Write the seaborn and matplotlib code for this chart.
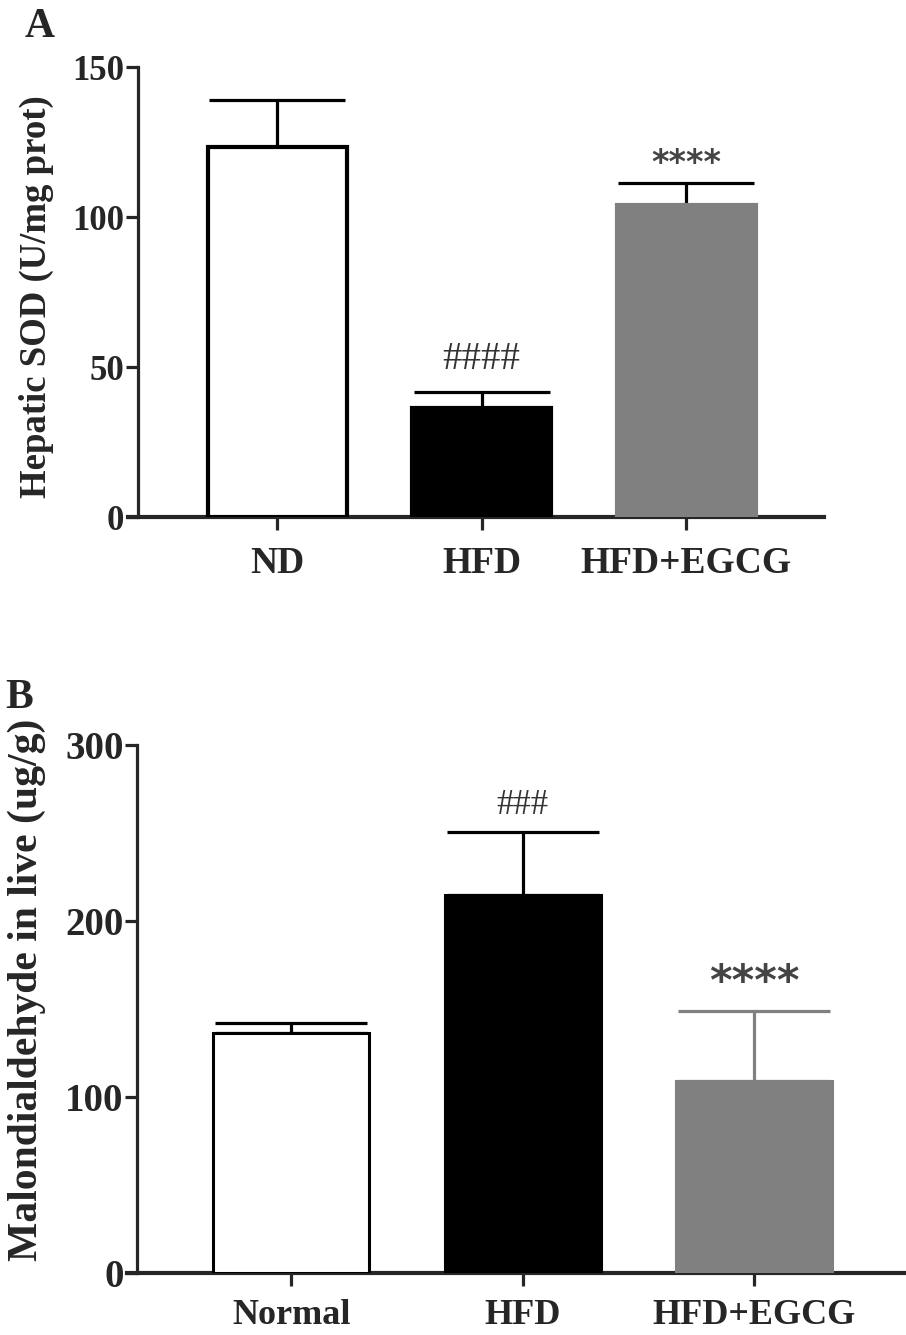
import matplotlib
matplotlib.use("Agg")
import matplotlib.pyplot as plt
import seaborn as sns

# --- data ---
groups_a = ["ND", "HFD", "HFD+EGCG"]
sod_mean = [123.5, 36.3, 104.0]
sod_err = [15.5, 5.4, 7.5]
marks_a = ["", "####", "****"]

groups_b = ["Normal", "HFD", "HFD+EGCG"]
mda_mean = [136.5, 214.8, 109.0]
mda_err = [5.5, 35.5, 40.0]
marks_b = ["", "###", "****"]

fills = ["white", "black", "#808080"]
edges = ["black", "black", "#808080"]

sns.set_style("ticks")
plt.rcParams["font.family"] = ["Liberation Serif", "DejaVu Serif"]

fig = plt.figure(figsize=(9.06, 13.35), dpi=100)


def panel(rect, groups, means, errs, marks, ylim, yticks, ylabel, xlim, spine_x,
          width, capsize, edge_lw, err_colors, tick_fs, ylab_fs, xlab_fs, xpad,
          label_x, label_y, hash_fs, star_fs, mark_offsets):
    ax = fig.add_axes(rect)
    sns.barplot(x=groups, y=means, hue=groups, palette=fills, legend=False,
                width=width, ax=ax, errorbar=None, zorder=3)
    for p, ec in zip(ax.patches, edges):
        p.set_edgecolor(ec)
        p.set_linewidth(edge_lw)
    for i, (m, e) in enumerate(zip(means, errs)):
        ax.errorbar(i, m, yerr=[[0], [e]], fmt="none", ecolor=err_colors[i],
                    elinewidth=2.3, capsize=capsize, capthick=2.3, zorder=2)
    ax.set_ylim(*ylim)
    ax.set_yticks(yticks)
    ax.set_xlim(*xlim)
    sns.despine(ax=ax)
    ax.spines["left"].set_position(("data", spine_x))
    ax.spines["left"].set_linewidth(2.3)
    ax.spines["bottom"].set_linewidth(3)
    ax.tick_params(axis="y", length=9, width=2.3, pad=1, labelsize=tick_fs)
    ax.tick_params(axis="x", length=9, width=2.3, pad=xpad, labelsize=xlab_fs)
    for t in ax.get_yticklabels() + ax.get_xticklabels():
        t.set_fontweight("bold")
    ax.set_ylabel(ylabel, fontsize=ylab_fs, fontweight="bold")
    ax.yaxis.set_label_coords(label_x, label_y)
    ax.set_xlabel("")
    for i, (m, e, s) in enumerate(zip(means, errs, marks)):
        if s:
            if s.startswith("#"):
                ax.text(i, m + e + mark_offsets[0], s, ha="center", va="bottom",
                        fontsize=hash_fs, color="#333333")
            else:
                ax.text(i, m + e + mark_offsets[1], s, ha="center", va="bottom",
                        fontsize=star_fs, color="#444444", family="DejaVu Sans",
                        fontweight="bold")
    return ax


# panel A
panel([128 / 906, 1 - 517 / 1335, 696 / 906, 450 / 1335],
      groups_a, sod_mean, sod_err, marks_a, (0, 150), [0, 50, 100, 150],
      "Hepatic SOD (U/mg prot)", (-0.73, 2.674), -0.68, 0.68, 49, 3.0,
      ["black", "black", "black"], 25, 26.5, 27, 12, -0.106, 0.489,
      28, 24, (4.5, 1.0))

# panel B
panel([127 / 906, 1 - 1273 / 1335, 779 / 906, 528 / 1335],
      groups_b, mda_mean, mda_err, marks_b, (0, 300), [0, 100, 200, 300],
      "Malondialdehyde in live (ug/g)", (-0.71, 2.657), -0.665, 0.674, 55, 2.2,
      ["black", "black", "#808080"], 28, 30, 26, 10, -0.104, 0.536,
      25, 31, (6, 4))

fig.text(25 / 906, 1 - 37 / 1335, "A", fontsize=30, fontweight="bold")
fig.text(5 / 906, 1 - 708 / 1335, "B", fontsize=30, fontweight="bold")

fig.savefig("out.png", dpi=100)
